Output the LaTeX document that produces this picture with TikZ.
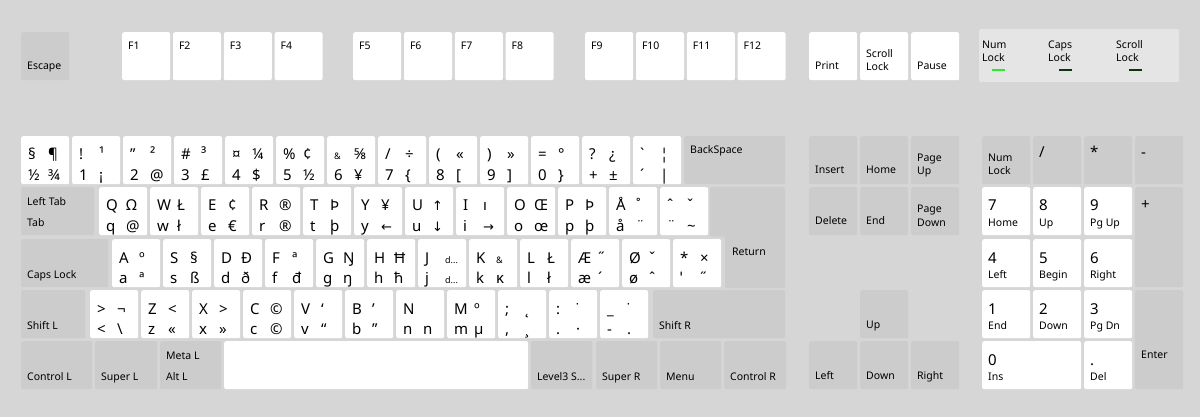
\documentclass[tikz,border=0pt]{standalone}
\usepackage{fontspec}
\setmainfont{Noto Sans}
\newfontfamily\ArrowFont{DejaVu Sans}

\definecolor{BoardGray}{RGB}{214,214,214}
\definecolor{ModGray}{RGB}{204,204,204}
\definecolor{LedPanel}{RGB}{229,229,229}
\definecolor{LedOn}{RGB}{40,235,40}
\definecolor{LedOff}{RGB}{14,52,14}

\newcommand{\GlyphFont}{\fontsize{15}{18}\selectfont}
\newcommand{\LabelFont}{\fontsize{10.5}{13.5}\selectfont}
\newcommand{\SmallSym}[1]{{\fontsize{9}{9}\selectfont #1}}
\newcommand{\Arw}[1]{{\ArrowFont\fontsize{13}{13}\selectfont #1}}
\newcommand{\OpenBr}{\char"5B}
\newcommand{\CloseBr}{\char"5D}

\tikzset{
  key/.style={fill=white, rounded corners=2pt, minimum width=48pt, minimum height=48pt, inner sep=0pt, anchor=north west},
  modkey/.style={key, fill=ModGray},
  glyph/.style={font=\GlyphFont, anchor=base west, inner sep=0pt},
  lbl/.style={font=\LabelFont, anchor=base west, inner sep=0pt, align=left},
  ledbar/.style={minimum width=13pt, minimum height=2.5pt, inner sep=0pt},
}

\begin{document}
\begin{tikzpicture}[x=1pt, y=-1pt]
  \pgfmathsetmacro{\KeyPitch}{51}
  \fill[BoardGray] (0,0) rectangle (1200,417);
  \useasboundingbox (0,0) rectangle (1200,417);

  % FUNCTION ROW
  \node[modkey] (esc) at (21,32) {};
  \node[lbl] (esclbl) at ([shift={(6,38)}]esc.north west) {Escape};
  \foreach \FName/\FLeft in {F1/122, F2/172.8, F3/223.6, F4/274.4, F5/353, F6/403.8, F7/454.6, F8/505.4,
                             F9/585, F10/635.8, F11/686.6, F12/737.4}{
    \node[key] (\FName) at (\FLeft,32) {};
    \node[lbl] (\FName lbl) at ([shift={(6,18)}]\FName.north west) {\FName};
  }
  \node[key] (print) at (809,32) {};
  \node[lbl] (printlbl) at ([shift={(6,38)}]print.north west) {Print};
  \node[key] (scroll) at (860,32) {};
  \node[lbl] (scrolllbl) at ([shift={(6,39)}]scroll.north west) {Scroll\\Lock};
  \node[key] (pause) at (911,32) {};
  \node[lbl] (pauselbl) at ([shift={(6,38)}]pause.north west) {Pause};

  % LEDS
  \node[fill=LedPanel, rounded corners=2pt, minimum width=200pt, minimum height=53pt, inner sep=0pt, anchor=north west] (leds) at (979,29) {};
  \node[lbl] (numled) at ([shift={(3,33)}]leds.north west) {Num\\Lock};
  \node[lbl] (capsled) at ([shift={(69,33)}]leds.north west) {Caps\\Lock};
  \node[lbl] (scrollled) at ([shift={(137,33)}]leds.north west) {Scroll\\Lock};
  \node[ledbar, fill=LedOn] (numbar) at (998,70) {};
  \node[ledbar, fill=LedOff] (capsbar) at (1065,70) {};
  \node[ledbar, fill=LedOff] (scrollbar) at (1135,70) {};

  % NUMBER ROW
  \foreach \ShiftSym/\ShiftAlt/\BaseSym/\BaseAlt [count=\i from 0] in {
      §/¶/½/¾, !/¹/1/¡, ʺ/²/2/@, \#/³/3/£, ¤/¼/4/\$, \%/¢/5/½,
      \SmallSym{\&}/⅝/6/¥, \slash/÷/7/\{, {(}/«/8/\OpenBr, {)}/»/9/\CloseBr, =/°/0/\}, ?/¿/+/±, ˋ/¦/´/|}{
    \node[key] (num\i) at ({21+\KeyPitch*\i},136) {};
    \node[glyph] (numa\i) at ([shift={(7,24)}]num\i.north west) {\ShiftSym};
    \node[glyph] (numb\i) at ([shift={(27,24)}]num\i.north west) {\ShiftAlt};
    \node[glyph] (numc\i) at ([shift={(7,44)}]num\i.north west) {\BaseSym};
    \node[glyph] (numd\i) at ([shift={(27,44)}]num\i.north west) {\BaseAlt};
  }
  \node[modkey, minimum width=101pt] (backspace) at (684,136) {};
  \node[lbl] (backspacelbl) at ([shift={(6,18)}]backspace.north west) {BackSpace};

  % TOP ROW
  \node[modkey, minimum width=73pt] (tab) at (21,187) {};
  \node[lbl] (lefttablbl) at ([shift={(6,18)}]tab.north west) {Left Tab};
  \node[lbl] (tablbl) at ([shift={(6,39)}]tab.north west) {Tab};
  \foreach \ShiftSym/\ShiftAlt/\BaseSym/\BaseAlt [count=\i from 0] in {
      Q/Ω/q/@, W/Ł/w/ł, E/¢/e/€, R/®/r/®, T/Þ/t/þ, Y/¥/y/\Arw{←}, U/\Arw{↑}/u/\Arw{↓},
      I/ı/i/\Arw{→}, O/Œ/o/œ, P/Þ/p/þ, Å/˚/å/¨, ˆ/ˇ/¨/\textasciitilde}{
    \node[key] (top\i) at ({99+\KeyPitch*\i},187) {};
    \node[glyph] (topa\i) at ([shift={(7,24)}]top\i.north west) {\ShiftSym};
    \node[glyph] (topb\i) at ([shift={(27,24)}]top\i.north west) {\ShiftAlt};
    \node[glyph] (topc\i) at ([shift={(7,44)}]top\i.north west) {\BaseSym};
    \node[glyph] (topd\i) at ([shift={(27,44)}]top\i.north west) {\BaseAlt};
  }
  \fill[ModGray, rounded corners=2pt] (710,187) -- (785,187) -- (785,288) -- (725,288) -- (725,236.5) -- (710,236.5) -- cycle;
  \node[lbl] (returnlbl) at (732,255) {Return};

  % HOME ROW
  \node[modkey, minimum width=87pt] (caps) at (21,239) {};
  \node[lbl] (capslbl) at ([shift={(6,39)}]caps.north west) {Caps Lock};
  \foreach \ShiftSym/\ShiftAlt/\BaseSym/\BaseAlt [count=\i from 0] in {
      A/º/a/ª, S/§/s/ß, D/Đ/d/ð, F/ª/f/đ, G/Ŋ/g/ŋ, H/Ħ/h/ħ, J/\SmallSym{d...}/j/\SmallSym{d...},
      K/\SmallSym{\&}/k/ĸ, L/Ł/l/ł, Æ/˝/æ/´, Ø/ˇ/ø/ˆ, */×/ˈ/˝}{
    \node[key] (home\i) at ({112+\KeyPitch*\i},239) {};
    \node[glyph] (homea\i) at ([shift={(7,24)}]home\i.north west) {\ShiftSym};
    \node[glyph] (homeb\i) at ([shift={(27,24)}]home\i.north west) {\ShiftAlt};
    \node[glyph] (homec\i) at ([shift={(7,44)}]home\i.north west) {\BaseSym};
    \node[glyph] (homed\i) at ([shift={(27,44)}]home\i.north west) {\BaseAlt};
  }

  % BOTTOM ROW
  \node[modkey, minimum width=64pt] (lshift) at (21,290) {};
  \node[lbl] (lshiftlbl) at ([shift={(6,39)}]lshift.north west) {Shift L};
  \foreach \ShiftSym/\ShiftAlt/\BaseSym/\BaseAlt [count=\i from 0] in {
      >/¬/</\textbackslash, Z/</z/«, X/>/x/», C/©/c/©, V/‘/v/“, B/’/b/”, N//n/n,
      M/º/m/µ, ;/˛/{,}/¸, :/˙/./·, \_/˙/-/.}{
    \node[key] (bot\i) at ({90+\KeyPitch*\i},290) {};
    \node[glyph] (bota\i) at ([shift={(7,24)}]bot\i.north west) {\ShiftSym};
    \node[glyph] (botb\i) at ([shift={(27,24)}]bot\i.north west) {\ShiftAlt};
    \node[glyph] (botc\i) at ([shift={(7,44)}]bot\i.north west) {\BaseSym};
    \node[glyph] (botd\i) at ([shift={(27,44)}]bot\i.north west) {\BaseAlt};
  }
  \node[modkey, minimum width=132pt] (rshift) at (653,290) {};
  \node[lbl] (rshiftlbl) at ([shift={(6,39)}]rshift.north west) {Shift R};

  % SPACE ROW
  \node[modkey, minimum width=71pt] (lctrl) at (21,341) {};
  \node[lbl] (lctrllbl) at ([shift={(6,39)}]lctrl.north west) {Control L};
  \node[modkey, minimum width=62pt] (lsuper) at (95,341) {};
  \node[lbl] (lsuperlbl) at ([shift={(6,39)}]lsuper.north west) {Super L};
  \node[modkey, minimum width=61pt] (lalt) at (160,341) {};
  \node[lbl] (metalbl) at ([shift={(6,18)}]lalt.north west) {Meta L};
  \node[lbl] (laltlbl) at ([shift={(6,39)}]lalt.north west) {Alt L};
  \node[key, minimum width=304pt] (space) at (224,341) {};
  \node[modkey, minimum width=61pt] (level3) at (531,341) {};
  \node[lbl] (level3lbl) at ([shift={(6,39)}]level3.north west) {Level3 S...};
  \node[modkey, minimum width=61pt] (rsuper) at (596,341) {};
  \node[lbl] (rsuperlbl) at ([shift={(6,39)}]rsuper.north west) {Super R};
  \node[modkey, minimum width=61pt] (menu) at (660,341) {};
  \node[lbl] (menulbl) at ([shift={(6,39)}]menu.north west) {Menu};
  \node[modkey, minimum width=62pt] (rctrl) at (724,341) {};
  \node[lbl] (rctrllbl) at ([shift={(6,39)}]rctrl.north west) {Control R};

  % NAVIGATION
  \foreach \NavName/\NavText/\NavLeft/\NavTop in {insert/Insert/809/136, home/Home/860/136, delete/Delete/809/187,
      end/End/860/187, up/Up/860/290, left/Left/809/341, down/Down/860/341, right/Right/911/341}{
    \node[modkey] (\NavName) at (\NavLeft,\NavTop) {};
    \node[lbl] (\NavName lbl) at ([shift={(6,38)}]\NavName.north west) {\NavText};
  }
  \node[modkey] (pgup) at (911,136) {};
  \node[lbl] (pguplbl) at ([shift={(6,39)}]pgup.north west) {Page\\Up};
  \node[modkey] (pgdn) at (911,187) {};
  \node[lbl] (pgdnlbl) at ([shift={(6,39)}]pgdn.north west) {Page\\Down};

  % KEYPAD
  \node[modkey] (numlock) at (982,136) {};
  \node[lbl] (numlocklbl) at ([shift={(6,39)}]numlock.north west) {Num\\Lock};
  \foreach \OpName/\OpSym/\OpCol in {kpdiv/\slash/1, kpmul/*/2, kpsub/-/3}{
    \node[modkey] (\OpName) at ({982+\KeyPitch*\OpCol},136) {};
    \node[glyph] (\OpName lbl) at ([shift={(6,22)}]\OpName.north west) {\OpSym};
  }
  \node[modkey, minimum height=100pt] (kpadd) at (1135,187) {};
  \node[glyph] (kpaddlbl) at ([shift={(6,22)}]kpadd.north west) {+};
  \node[modkey, minimum height=99pt] (kpenter) at (1135,290) {};
  \node[lbl] (kpenterlbl) at ([shift={(6,68)}]kpenter.north west) {Enter};
  \foreach \Digit/\SubText/\Col/\Top in {7/Home/0/187, 8/Up/1/187, 9/Pg Up/2/187, 4/Left/0/239, 5/Begin/1/239,
      6/Right/2/239, 1/End/0/290, 2/Down/1/290, 3/Pg Dn/2/290}{
    \node[key] (kp\Digit) at ({982+\KeyPitch*\Col},\Top) {};
    \node[glyph] (kp\Digit num) at ([shift={(6,24)}]kp\Digit.north west) {\Digit};
    \node[lbl] (kp\Digit lbl) at ([shift={(6,39)}]kp\Digit.north west) {\SubText};
  }
  \node[key, minimum width=99pt] (kp0) at (982,341) {};
  \node[glyph] (kp0num) at ([shift={(6,24)}]kp0.north west) {0};
  \node[lbl] (kp0lbl) at ([shift={(6,39)}]kp0.north west) {Ins};
  \node[key] (kpdot) at (1084,341) {};
  \node[glyph] (kpdotnum) at ([shift={(6,24)}]kpdot.north west) {.};
  \node[lbl] (kpdotlbl) at ([shift={(6,39)}]kpdot.north west) {Del};
\end{tikzpicture}
\end{document}
